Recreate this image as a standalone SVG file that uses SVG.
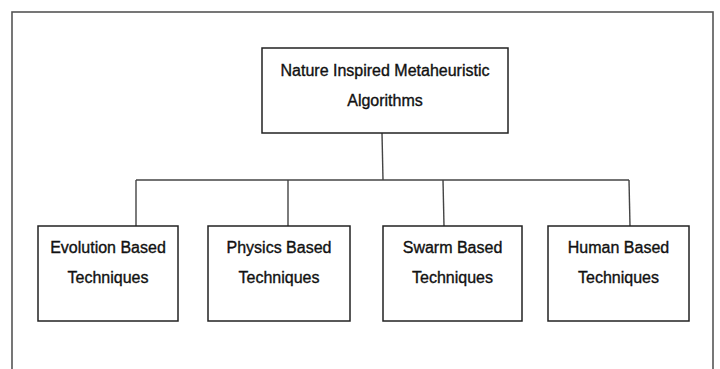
<svg xmlns="http://www.w3.org/2000/svg" width="720" height="369" viewBox="0 0 720 369">
<style>
.box{fill:#fff;stroke:#222;stroke-width:1.5}
.lbl{font-family:"Liberation Sans",Arial,sans-serif;font-size:16px;fill:#111;stroke:#111;stroke-width:0.35;text-anchor:middle}
.conn{stroke:#444;stroke-width:1.4;fill:none}
</style>
<rect x="0" y="0" width="720" height="369" fill="#fff"/>
<rect x="12" y="12" width="701" height="380" fill="none" stroke="#555" stroke-width="1.6"/>
<g id="connectors">
<path class="conn" d="M382,133 L383,180"/>
<path class="conn" d="M136,180 L629,180"/>
<path class="conn" d="M136,180 L136,226"/>
<path class="conn" d="M288,180 L288,226"/>
<path class="conn" d="M443,180 L444,226"/>
<path class="conn" d="M629,180 L630,226"/>
</g>
<g id="root">
<rect class="box" x="262" y="48" width="246" height="85"/>
<text class="lbl" x="385" y="76">Nature Inspired Metaheuristic</text>
<text class="lbl" x="385" y="106">Algorithms</text>
</g>
<g id="evolution">
<rect class="box" x="38" y="226" width="140" height="95"/>
<text class="lbl" x="108" y="253">Evolution Based</text>
<text class="lbl" x="108" y="283">Techniques</text>
</g>
<g id="physics">
<rect class="box" x="208" y="226" width="142" height="95"/>
<text class="lbl" x="279" y="253">Physics Based</text>
<text class="lbl" x="279" y="283">Techniques</text>
</g>
<g id="swarm">
<rect class="box" x="383" y="226" width="139" height="95"/>
<text class="lbl" x="452.5" y="253">Swarm Based</text>
<text class="lbl" x="452.5" y="283">Techniques</text>
</g>
<g id="human">
<rect class="box" x="548" y="226" width="141" height="95"/>
<text class="lbl" x="618.5" y="253">Human Based</text>
<text class="lbl" x="618.5" y="283">Techniques</text>
</g>
</svg>
